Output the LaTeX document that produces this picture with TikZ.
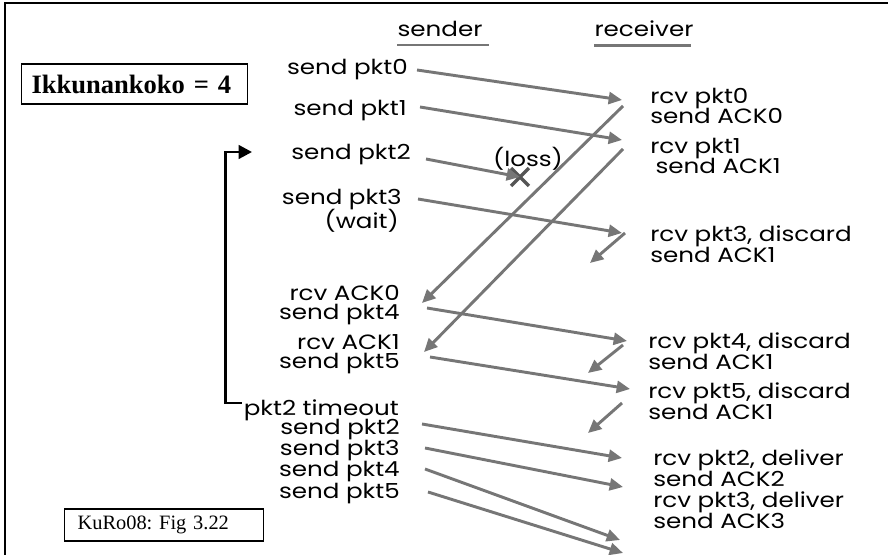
\documentclass[tikz,border=0pt]{standalone}
\usepackage{fontspec}
\setmainfont{Liberation Serif}
\newfontfamily\gothic[FakeStretch=1.19]{Poppins}
\usetikzlibrary{arrows.meta,positioning,shapes.misc}
\definecolor{pktgrey}{RGB}{118,118,118}
\definecolor{lossgrey}{RGB}{85,85,85}
\tikzset{
  lbl/.style={inner sep=0pt,font=\gothic\fontsize{15.5}{15.5}\selectfont},
  sndl/.style={lbl,anchor=east,align=right},
  rcvl/.style={lbl,anchor=west,align=left},
  msg/.style={-{Triangle[length=10pt,width=9pt]},line width=2.2pt,draw=pktgrey},
  uline/.style={line width=2.2pt,draw=pktgrey},
  tmoline/.style={-{Triangle[length=10pt,width=10pt]},line width=2.2pt,draw=black},
  infobox/.style={draw=black,line width=0.9pt,align=left,inner ysep=0pt}
}
\frenchspacing
\begin{document}
\begin{tikzpicture}[x=0.75pt,y=-0.75pt]
  \useasboundingbox (0,0) rectangle (888,555);
  \draw[line width=1.5pt] (4.5,555) -- (4.5,3.5) -- (888,3.5);

  % headings
  \node[lbl] (hsnd) at (440,29) {sender};
  \node[lbl] (hrcv) at (644,29) {receiver};
  \draw[uline] ([shift={(0,8)}]hsnd.south west) -- ([shift={(6,8)}]hsnd.south east);
  \draw[uline] ([shift={(0,8)}]hrcv.south west) -- ([shift={(-3,8)}]hrcv.south east);

  % boxes
  \node[infobox,anchor=west,minimum height=30pt,inner xsep=7.5pt,text width=154.5pt,
        font=\bfseries\fontsize{19.9}{22}\selectfont] (win) at (21,84) {Ikkunankoko = 4};
  \node[infobox,anchor=west,minimum height=24pt,inner xsep=9.75pt,text width=129.75pt,
        font=\fontsize{15.3}{17}\selectfont] (src) at (64,525) {KuRo08: Fig 3.22};

  % sender side
  \node[sndl] (s0) at (408,70) {send pkt0};
  \node[sndl] (s1) at (407,111) {send pkt1};
  \node[sndl] (s2) at (411,155) {send pkt2};
  \node[sndl] (s3) at (402,200) {send pkt3};
  \node[sndl] (wt) at (399,221) {(wait)};
  \node[sndl,font=\gothic\fontsize{15.5}{14.5}\selectfont] (as4) at (400,305) {rcv ACK0\\send pkt4};
  \node[sndl,font=\gothic\fontsize{15.5}{14.5}\selectfont] (as5) at (400,354) {rcv ACK1\\send pkt5};
  \node[sndl] (tmo) at (399,410) {pkt2 timeout};
  \node[sndl] (t2) at (400,430) {send pkt2};
  \node[sndl] (t3) at (400,451) {send pkt3};
  \node[sndl] (t4) at (400,472) {send pkt4};
  \node[sndl] (t5) at (400,494) {send pkt5};

  % receiver side
  \node[rcvl] (r0) at (650,106) {rcv pkt0\\send ACK0};
  \node[rcvl] (r1) at (650,156) {rcv pkt1\\\hspace*{4pt}send ACK1};
  \node[rcvl] (r3) at (650,244) {rcv pkt3, discard\\send ACK1};
  \node[rcvl] (r4) at (648,351) {rcv pkt4, discard\\send ACK1};
  \node[rcvl] (r5) at (648,401) {rcv pkt5, discard\\send ACK1};
  \node[rcvl] (r2b) at (653,468) {rcv pkt2, deliver\\send ACK2};
  \node[rcvl] (r3b) at (653,510) {rcv pkt3, deliver\\send ACK3};

  % loss
  \node[lbl] (loss) at (528,159) {(loss)};
  \node[cross out,draw=lossgrey,line width=2.4pt,minimum size=11pt,inner sep=0pt] (lx) at (520,177) {};

  \coordinate (ack3x) at (590,263);
  \coordinate (ack4x) at (588,373);
  \coordinate (ack5x) at (588,433);
  \coordinate (p4end) at (620,540);
  \coordinate (p5end) at (623,553);

  % packets
  \draw[msg] ([shift={(9,0)}]s0.east) -- ([shift={(-28,-6)}]r0.west);
  \draw[msg] ([shift={(13,-4)}]s1.east) -- ([shift={(-28,-16)}]r1.west);
  \draw[msg] ([shift={(15,4)}]s2.east) -- (lx.center);
  \draw[msg] ([shift={(16,-1)}]s3.east) -- ([shift={(-28,-11)}]r3.west);
  \draw[msg] ([shift={(27,3)}]as4.east) -- ([shift={(-21,-10)}]r4.west);
  \draw[msg] ([shift={(30,3)}]as5.east) -- ([shift={(-18,-12)}]r5.west);
  \draw[msg] ([shift={(22,-6)}]t2.east) -- ([shift={(-31,-10)}]r2b.west);
  \draw[msg] ([shift={(25,-3)}]t3.east) -- ([shift={(-30,-23)}]r3b.west);
  \draw[msg] ([shift={(25,-3)}]t4.east) -- (p4end);
  \draw[msg] ([shift={(28,-2)}]t5.east) -- (p5end);

  % acks
  \draw[msg] ([shift={(-27,0)}]r0.west) -- ([shift={(22,-2)}]as4.east);
  \draw[msg] ([shift={(-27,-7)}]r1.west) -- ([shift={(24,-2)}]as5.east);
  \draw[msg] ([shift={(-25,-11)}]r3.west) -- (ack3x);
  \draw[msg] ([shift={(-25,-6)}]r4.west) -- (ack4x);
  \draw[msg] ([shift={(-26,2)}]r5.west) -- (ack5x);

  % timeout
  \draw[tmoline] ([shift={(-2,-7)}]tmo.west) -- ++(-16,0) |- ([shift={(-39,-3)}]s2.west);
\end{tikzpicture}
\end{document}
